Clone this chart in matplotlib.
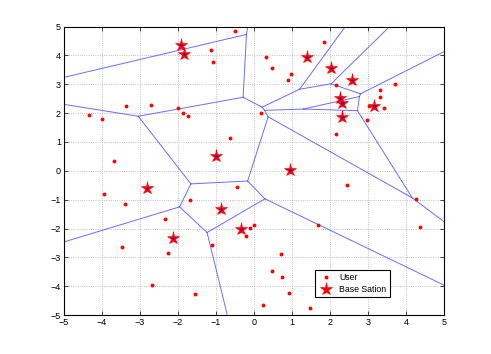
import numpy as np
import matplotlib
matplotlib.use("Agg")
import matplotlib.pyplot as plt

# Base stations (Voronoi sites)
bs_x = [-1.93, -1.84, 1.38, 2.03, 2.56, 2.27, 2.32, 3.16, 2.30, -0.99, 0.95, -2.82, -0.87, -2.12, -0.34]
bs_y = [4.35, 4.06, 3.93, 3.57, 3.16, 2.52, 2.35, 2.26, 1.85, 0.50, 0.03, -0.58, -1.31, -2.33, -2.00]

# Users
user_x = [-0.50, -1.12, -1.08, -3.37, -2.72, -4.34, -3.99, -2.00, -1.88, -1.73, -0.62, -3.68,
          1.85, 0.31, 0.47, 0.96, 0.89, 2.14, 3.69, 3.30, 3.30, 3.02, 3.41, 0.19, 2.97, 2.16,
          -3.94, -3.40, -1.69, -0.45, -2.33, -3.47, -2.27, -1.11, -0.11, 0.00, -0.21, -2.67, -1.54,
          2.45, 4.25, 4.37, 1.68, 0.72, 0.47, 0.74, 0.92, 0.23, 1.47]
user_y = [4.84, 4.19, 3.77, 2.26, 2.28, 1.93, 1.78, 2.18, 2.00, 1.90, 1.13, 0.35,
          4.48, 3.93, 3.55, 3.37, 3.14, 2.99, 3.00, 2.81, 2.55, 2.24, 2.19, 2.00, 1.77, 1.28,
          -0.79, -1.16, -1.00, -0.57, -1.66, -2.65, -2.84, -2.56, -1.99, -1.89, -2.27, -3.96, -4.26,
          -0.48, -0.98, -1.94, -1.89, -2.87, -3.47, -3.68, -4.22, -4.64, -4.77]

ticks = [-5, -4, -3, -2, -1, 0, 1, 2, 3, 4, 5]

plt.rcParams['font.family'] = ['Liberation Sans', 'DejaVu Sans']

def voronoi_edges(xs, ys, T=100.0):
    P = np.column_stack([xs, ys]).astype(float)
    n = len(P)
    edges = []
    for i in range(n):
        for j in range(i + 1, n):
            si, sj = P[i], P[j]
            m = (si + sj) / 2
            diff = sj - si
            d = np.array([-diff[1], diff[0]])
            d = d / np.linalg.norm(d)
            lo, hi = -T, T
            ok = True
            for k in range(n):
                if k in (i, j):
                    continue
                sk = P[k]
                a = 2 * np.dot(d, sk - si)
                b = np.dot(sk, sk) - np.dot(si, si) - 2 * np.dot(m, sk - si)
                if abs(a) < 1e-12:
                    if b < 0:
                        ok = False
                        break
                elif a > 0:
                    hi = min(hi, b / a)
                else:
                    lo = max(lo, b / a)
                if lo >= hi:
                    ok = False
                    break
            if ok and hi - lo > 1e-9:
                edges.append((m + lo * d, m + hi * d))
    return edges

fig = plt.figure(figsize=(4.91, 3.54), dpi=100)
ax = fig.add_axes([0.13, 0.11, 0.775, 0.815])

for p0, p1 in voronoi_edges(bs_x, bs_y):
    ax.plot([p0[0], p1[0]], [p0[1], p1[1]], '-', color='#4848ff', lw=0.7, alpha=0.8)

ax.plot(user_x, user_y, 'o', color='red', markersize=2.8, markeredgewidth=0, label='User', zorder=3)
ax.plot(bs_x, bs_y, '*', color='red', markersize=9.5, markeredgewidth=0.4,
        markeredgecolor='red', label='Base Sation', zorder=4)
ax.plot(bs_x, bs_y, 'o', color='blue', markersize=1.6, markeredgewidth=0, zorder=5)

ax.set_xlim(-5, 5)
ax.set_ylim(-5, 5)
ax.set_xticks(ticks)
ax.set_yticks(ticks)
ax.tick_params(direction='in', length=3, width=0.5, labelsize=6.5, top=True, right=True, pad=2)
ax.grid(True, linestyle=':', color='#b0b0b0', linewidth=0.6)
for s in ax.spines.values():
    s.set_linewidth(0.8)

leg = ax.legend(loc='upper left', bbox_to_anchor=(0.648, 0.172), fontsize=6.3,
                fancybox=False, framealpha=1, edgecolor='black', borderpad=0.4,
                handlelength=1.8, handletextpad=0.6, labelspacing=0.3)
leg.get_frame().set_linewidth(0.8)

fig.savefig('out.png', dpi=100)
